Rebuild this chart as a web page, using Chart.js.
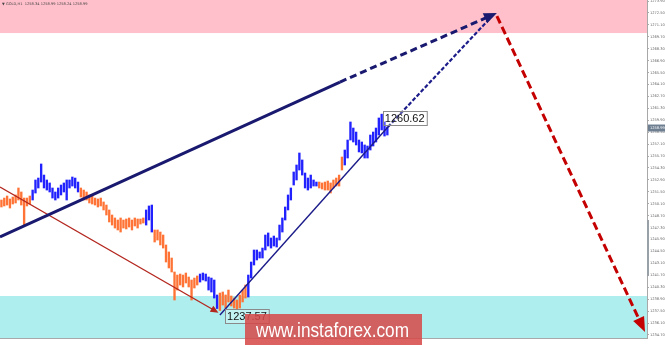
<!DOCTYPE html>
<html><head><meta charset="utf-8">
<script src="https://cdn.jsdelivr.net/npm/chart.js@4.4.1/dist/chart.umd.min.js"></script>
<style>html,body{margin:0;padding:0;background:#fff;overflow:hidden}#wrap{width:665px;height:345px;position:relative}</style>
</head><body><div id="wrap"><canvas id="c" width="665" height="345"></canvas></div>
<script>
// ---- data (H1 bars: high / low) ----
const highs = [1250.54,1250.77,1251.01,1250.66,1250.89,1251.13,1251.95,1251.48,1250.77,1250.77,
1251.01,1251.71,1252.89,1253.12,1254.77,1253.47,1252.89,1252.54,1251.95,1251.48,
1251.95,1252.30,1252.54,1252.89,1252.89,1253.24,1253.12,1252.65,1251.95,1251.71,
1251.48,1251.13,1251.01,1250.77,1250.66,1250.77,1250.31,1249.95,1249.37,1248.78,
1248.43,1248.19,1248.43,1248.19,1248.31,1248.43,1248.19,1248.43,1248.31,1248.31,
1248.43,1249.37,1249.84,1249.95,1247.02,1247.02,1246.78,1246.43,1245.26,1244.44,
1243.73,1242.09,1241.73,1241.85,1241.73,1241.97,1241.50,1241.15,1241.38,1241.62,
1241.85,1241.97,1241.85,1241.50,1241.38,1241.15,1239.39,1239.62,1239.74,1239.39,
1239.97,1239.27,1239.03,1238.80,1239.39,1239.97,1240.56,1241.73,1243.26,1244.67,
1244.67,1244.44,1244.90,1246.43,1246.67,1246.08,1246.31,1246.08,1247.60,1248.43,
1249.72,1251.13,1251.95,1253.83,1254.65,1256.06,1255.24,1253.71,1253.12,1253.47,
1252.89,1252.65,1252.65,1252.54,1252.65,1252.77,1252.54,1252.89,1253.12,1253.47,
1255.59,1256.41,1257.58,1259.70,1258.99,1258.52,1257.58,1257.35,1257.00,1256.88,
1258.17,1258.52,1258.99,1260.17,1260.62,1259.70,1259.11];
const lows = [1249.72,1249.84,1249.95,1249.60,1250.07,1250.19,1250.54,1249.95,1247.60,1249.84,
1250.07,1250.54,1251.36,1251.95,1252.65,1251.95,1251.71,1251.48,1250.77,1250.54,
1250.77,1251.13,1251.48,1250.54,1251.95,1252.18,1251.95,1251.48,1250.89,1250.54,
1250.54,1250.19,1250.07,1249.95,1249.72,1249.84,1249.37,1248.78,1247.96,1247.60,
1247.25,1247.02,1246.78,1247.25,1247.14,1247.37,1247.02,1247.49,1247.25,1247.72,
1247.84,1247.60,1248.19,1246.78,1245.61,1245.84,1245.26,1244.90,1243.26,1242.56,
1242.09,1238.80,1239.97,1240.56,1240.33,1240.80,1240.33,1238.80,1240.21,1240.56,
1240.91,1241.15,1241.03,1239.97,1239.74,1239.03,1237.80,1237.57,1238.21,1237.86,
1238.57,1238.10,1237.86,1237.70,1237.86,1238.57,1239.03,1239.15,1241.38,1242.91,
1243.50,1243.73,1243.73,1244.67,1245.14,1244.90,1245.14,1245.02,1245.84,1246.78,
1248.19,1249.37,1250.54,1252.30,1252.89,1254.06,1253.47,1251.95,1251.71,1251.95,
1252.18,1252.18,1251.95,1251.83,1251.71,1251.71,1251.36,1251.95,1252.18,1252.18,
1254.06,1254.65,1255.47,1257.58,1257.35,1257.00,1256.18,1256.06,1255.47,1255.47,
1256.41,1256.88,1257.35,1258.17,1258.76,1258.05,1258.17];
// wave colouring: [first bar index, direction]
const waveSegments = [[0,'down'],[11,'up'],[28,'down'],[51,'up'],[54,'down'],[70,'up'],[77,'down'],[87,'up'],[112,'down'],[121,'up']];
const yTicks = [1273.90,1272.50,1271.10,1269.70,1268.30,1266.90,1265.50,1264.10,1262.70,1261.30,
1259.90,1258.50,1257.10,1255.70,1254.30,1252.90,1251.50,1250.10,1248.70,1247.30,
1245.90,1244.50,1243.10,1241.70,1240.30,1238.90,1237.50,1236.10,1234.70];
const xTickIndex = [0,8,16,24,32,40,48,56,64,72,80,88,96,104,112,120,128];
const xTickLabels = ['27 Jun 2018','27 Jun 08:00','27 Jun 16:00','28 Jun 00:00','28 Jun 08:00','28 Jun 16:00',
'29 Jun 00:00','29 Jun 08:00','29 Jun 16:00','2 Jul 00:00','2 Jul 08:00','2 Jul 16:00','3 Jul 00:00',
'3 Jul 08:00','3 Jul 16:00','4 Jul 00:00','4 Jul 08:00'];
const headerText = '\u25BC GOLD,H1  1258.34 1258.99 1258.24 1258.99';
const lastPrice = 1258.99;
// annotation anchors in data units [bar index, price]
const pinkZone = [1270.14, 1274.02];
const cyanZone = [1234.34, 1239.27];
const waveLine = [[-0.5,1246.20],[119.3,1264.39],[174.6,1272.49]];
const redLine = [[-0.5,1252.07],[76.5,1237.30]];
const trendLine = [[77,1237.04],[136.2,1259.11],[173.6,1272.38]];
const forecastLine = [[174.6,1272.14],[226.8,1235.04]];
const priceLabels = [{text:'1260.62', x:134.4, y:1260.99},{text:'1237.57', x:78.8, y:1237.74}];

const COLORS = {up:'#2222ff', down:'#ff7436'};
const barColors = highs.map((h,i)=>{
  let c='down';
  for (const s of waveSegments) if (i>=s[0]) c=s[1];
  return COLORS[c];
});

function arrowHead(ctx, from, to, len, wid, color){
  const a = Math.atan2(to[1]-from[1], to[0]-from[0]);
  ctx.save();
  ctx.fillStyle=color;
  ctx.translate(to[0],to[1]); ctx.rotate(a);
  ctx.beginPath(); ctx.moveTo(0,0); ctx.lineTo(-len,-wid/2); ctx.lineTo(-len,wid/2); ctx.closePath(); ctx.fill();
  ctx.restore();
}
function seg(ctx,a,b,w,color,dash){
  ctx.save(); ctx.strokeStyle=color; ctx.lineWidth=w; ctx.setLineDash(dash||[]);
  ctx.beginPath(); ctx.moveTo(a[0],a[1]); ctx.lineTo(b[0],b[1]); ctx.stroke(); ctx.restore();
}
function shorten(a,b,d){
  const dx=b[0]-a[0], dy=b[1]-a[1], L=Math.hypot(dx,dy);
  return [b[0]-dx/L*d, b[1]-dy/L*d];
}

const annot = {
  id:'annot',
  beforeDatasetsDraw(chart){
    const {ctx, chartArea:ca, scales:{x,y}} = chart;
    ctx.save();
    ctx.fillStyle='#ffc0cb';
    let t=y.getPixelForValue(pinkZone[1]), b=y.getPixelForValue(pinkZone[0]);
    ctx.fillRect(ca.left, t, ca.right-ca.left, b-t);
    ctx.fillStyle='#afeeee';
    t=y.getPixelForValue(cyanZone[1]); b=y.getPixelForValue(cyanZone[0]);
    ctx.fillRect(ca.left, t, ca.right-ca.left, b-t);
    ctx.restore();
  },
  afterDatasetsDraw(chart){
    const {ctx, scales:{x,y}} = chart;
    const P = p=>[x.getPixelForValue(p[0]), y.getPixelForValue(p[1])];
    ctx.save();
    ctx.lineCap='butt';
    // red thin
    const r0=P(redLine[0]), r1=P(redLine[1]);
    seg(ctx,r0,shorten(r0,r1,6),1.3,'#b3261e');
    arrowHead(ctx,r0,r1,8,7,'#b3261e');
    // thin navy trend
    const t0=P(trendLine[0]), t1=P(trendLine[1]), t2=P(trendLine[2]);
    seg(ctx,t0,t1,1.4,'#1c1c8a');
    seg(ctx,t1,shorten(t1,t2,6),2.2,'#1c1c8a',[4,2]);
    // thick navy wave
    const w0=P(waveLine[0]), w1=P(waveLine[1]), w2=P(waveLine[2]);
    seg(ctx,w0,w1,3,'#191970');
    seg(ctx,w1,shorten(w1,w2,9),3,'#191970',[7,4]);
    arrowHead(ctx,w1,w2,13,11,'#191970');
    // red forecast
    const f0=P(forecastLine[0]), f1=P(forecastLine[1]);
    seg(ctx,f0,shorten(f0,f1,10),3,'#c40000',[8,4]);
    arrowHead(ctx,f0,f1,15,12,'#c40000');
    // price labels
    ctx.font='11px "Liberation Sans", Arial, sans-serif';
    ctx.textBaseline='middle';
    for (const l of priceLabels){
      const [px,py]=P([l.x,l.y]);
      const w=ctx.measureText(l.text).width+4, h=14;
      ctx.fillStyle='rgba(255,255,255,0.25)';
      ctx.fillRect(px,py,w,h);
      ctx.strokeStyle='#8a8a8a'; ctx.lineWidth=1;
      ctx.strokeRect(Math.round(px)+0.5,Math.round(py)+0.5,w,h);
      ctx.fillStyle='#111';
      ctx.fillText(l.text,px+2,py+h/2+0.5);
    }
    ctx.restore();
  },
  afterDraw(chart){
    const {ctx, chartArea:ca, scales:{y}} = chart;
    ctx.save();
    // header
    ctx.font='3.6px "DejaVu Sans", sans-serif';
    ctx.fillStyle='#444'; ctx.textBaseline='middle';
    ctx.fillText(headerText, 2, 4.5);
    // current price tag
    const py=y.getPixelForValue(lastPrice);
    ctx.fillStyle='#6f7f92';
    ctx.fillRect(ca.right+1, py-3.5, 17, 7);
    ctx.fillStyle='#fff'; ctx.font='3.6px "DejaVu Sans", sans-serif';
    ctx.fillText(lastPrice.toFixed(2), ca.right+3, py);
    // scroll marker
    ctx.fillStyle='#9aa0a8';
    ctx.fillRect(ca.right, 220, 2, 56);
    // watermark
    ctx.fillStyle='rgba(214,72,72,0.86)';
    ctx.fillRect(245, 314, 177, 31);
    ctx.fillStyle='#fff';
    ctx.font='20px "Liberation Sans", Arial, sans-serif';
    ctx.textBaseline='alphabetic';
    const txt='www.instaforex.com';
    const tw=ctx.measureText(txt).width;
    ctx.save(); ctx.translate(256,337); ctx.scale(153/tw,1); ctx.fillText(txt,0,0); ctx.restore();
    ctx.restore();
  }
};

function noPad(s){ s.paddingTop=0; s.paddingBottom=0; s.paddingLeft=0; s.paddingRight=0; }

new Chart(document.getElementById('c'), {
  type:'bar',
  data:{datasets:[{
    data: highs.map((h,i)=>({x:i, y:[lows[i], h]})),
    backgroundColor: barColors,
    borderWidth:0,
    barThickness:1.7,
    grouped:false
  }]},
  options:{
    responsive:false, animation:false, devicePixelRatio:1,
    layout:{padding:0},
    plugins:{legend:{display:false}, tooltip:{enabled:false}},
    scales:{
      x:{type:'linear', min:-0.5, max:227.5, offset:false,
        grid:{display:false}, border:{display:true, color:'#a8a8a8'},
        afterBuildTicks:s=>{s.ticks = xTickIndex.map(v=>({value:v+0.5}));},
        ticks:{autoSkip:false, maxRotation:0, minRotation:0, align:'start', padding:1,
          font:{size:2.7, family:'"DejaVu Sans", sans-serif'}, color:'#666',
          callback:(v,i)=>xTickLabels[i]},
        afterFit:s=>{s.height=7; noPad(s);}
      },
      y:{position:'right', min:1234.34, max:1274.02,
        grid:{drawOnChartArea:false, drawTicks:true, tickLength:2, color:'#aaa'},
        border:{display:true, color:'#a8a8a8'},
        afterBuildTicks:s=>{s.ticks = yTicks.map(v=>({value:v}));},
        ticks:{autoSkip:false, padding:1, font:{size:3.6, family:'"DejaVu Sans", sans-serif'}, color:'#666',
          callback:v=>Number(v).toFixed(2)},
        afterFit:s=>{s.width=18; noPad(s);}
      }
    }
  },
  plugins:[annot]
});
</script></body></html>
